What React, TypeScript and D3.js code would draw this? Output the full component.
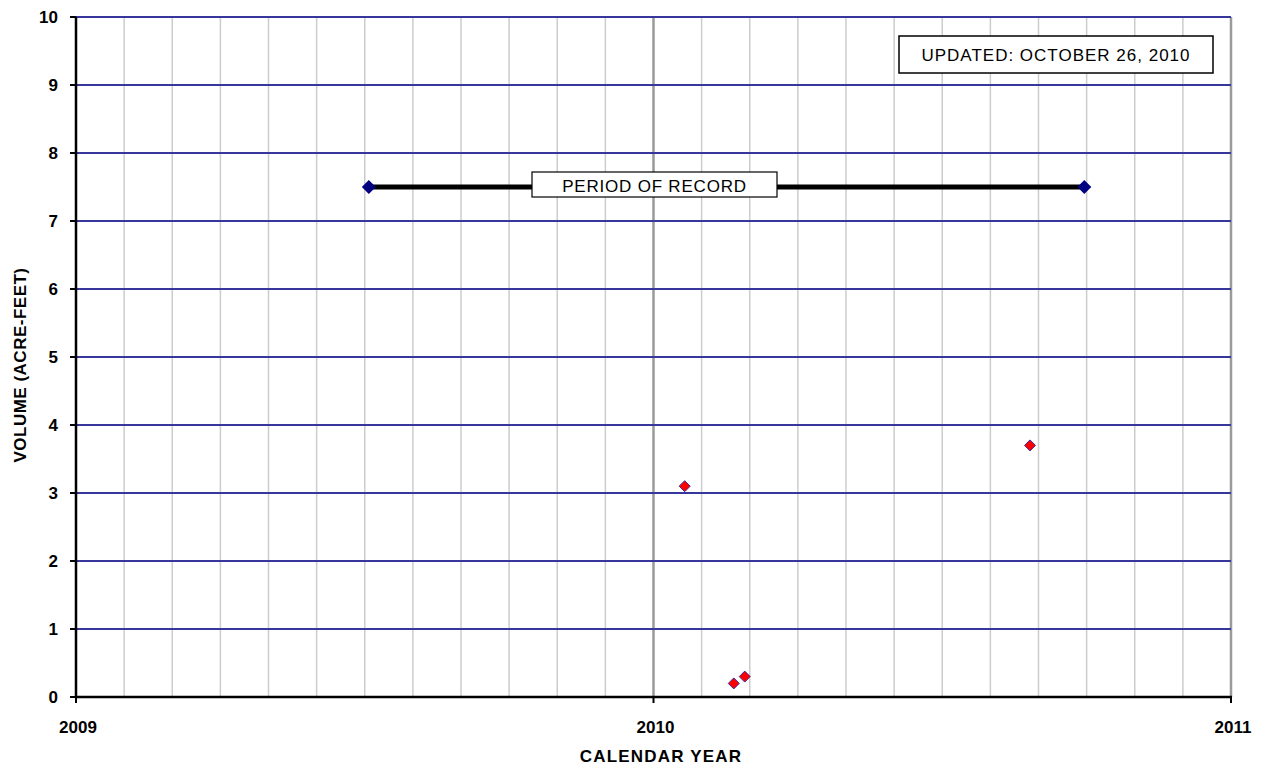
import React from "react";
import * as d3 from "d3";

// decimal years
const recordStart = 2009.507;
const recordEnd = 2010.746;
const recordLevel = 7.5;
const sampleYears = [2010.054, 2010.139, 2010.158, 2010.652];
const sampleVolumes = [3.1, 0.2, 0.3, 3.7];
const yTicks = [0, 1, 2, 3, 4, 5, 6, 7, 8, 9, 10];
const xTickYears = [2009, 2010, 2011];
const monthGrid = d3.range(1, 24).map((i) => 2009 + i / 12);

const W = 1263, H = 771;
const L = 76, R = 1231, T = 17, B = 697;

export default function App() {
  const x = d3.scaleLinear().domain([2009, 2011]).range([L, R]);
  const y = d3.scaleLinear().domain([0, 10]).range([B, T]);
  const font = "'Liberation Sans', Arial, sans-serif";
  const diamond = (cx: number, cy: number, r: number) =>
    `M${cx},${cy - r}L${cx + r},${cy}L${cx},${cy + r}L${cx - r},${cy}Z`;
  return (
    <svg width={W} height={H} style={{ position: "absolute", left: 0, top: 0, background: "#fff" }} fontFamily={font}>
      <rect x={0} y={0} width={W} height={H} fill="#fff" />
      {monthGrid.map((m, i) => (
        <line key={"v" + i} x1={x(m)} x2={x(m)} y1={T} y2={B}
          stroke={i === 11 ? "#9a9a9a" : "#cccccc"} strokeWidth={i === 11 ? 2.5 : 1.5} />
      ))}
      <line x1={R} x2={R} y1={T} y2={B} stroke="#9a9a9a" strokeWidth={2.5} />
      {yTicks.filter((t) => t > 0).map((t) => (
        <line key={"h" + t} x1={L} x2={R} y1={y(t)} y2={y(t)} stroke="#36369c" strokeWidth={2.2} />
      ))}
      {/* axes */}
      <line x1={L} x2={L} y1={T} y2={B + 1} stroke="#000" strokeWidth={2.5} />
      <line x1={L - 1} x2={R + 1} y1={B} y2={B} stroke="#000" strokeWidth={2.5} />
      {yTicks.map((t) => (
        <g key={"yt" + t}>
          <line x1={L - 6} x2={L} y1={y(t)} y2={y(t)} stroke="#000" strokeWidth={2} />
          <text x={58} y={y(t) + 6} textAnchor="end" fontSize={17} fontWeight="bold" fill="#000">{t}</text>
        </g>
      ))}
      {xTickYears.map((t) => (
        <g key={"xt" + t}>
          <line x1={x(t)} x2={x(t)} y1={B} y2={B + 6} stroke="#000" strokeWidth={2} />
          <text x={x(t) + 2} y={733} textAnchor="middle" fontSize={17} fontWeight="bold" fill="#000">{t}</text>
        </g>
      ))}
      <text x={661} y={762} textAnchor="middle" fontSize={17} fontWeight="bold" fill="#000" letterSpacing={1.2}>CALENDAR YEAR</text>
      <text transform={`translate(26,${(T + B) / 2 + 8}) rotate(-90)`} textAnchor="middle" fontSize={17} fontWeight="bold" fill="#000" letterSpacing={0.5}>VOLUME (ACRE-FEET)</text>
      {/* period of record */}
      <line x1={x(recordStart)} x2={x(recordEnd)} y1={y(recordLevel)} y2={y(recordLevel)} stroke="#000" strokeWidth={5} />
      <path d={diamond(x(recordStart), y(recordLevel), 7)} fill="#000080" />
      <path d={diamond(x(recordEnd), y(recordLevel), 7)} fill="#000080" />
      <rect x={532} y={172} width={245} height={25} fill="#fff" stroke="#000" strokeWidth={1.2} />
      <text x={654.5} y={191.5} textAnchor="middle" fontSize={17} fill="#000" letterSpacing={0.8}>PERIOD OF RECORD</text>
      {/* samples */}
      {sampleYears.map((sy, i) => (
        <path key={"p" + i} d={diamond(x(sy), y(sampleVolumes[i]), 5.5)} fill="#ff0000" stroke="#3a2a9a" strokeWidth={1} />
      ))}
      {/* updated box */}
      <rect x={899} y={36} width={314} height={37} fill="#fff" stroke="#000" strokeWidth={1.5} />
      <text x={1056} y={61} textAnchor="middle" fontSize={17} fill="#000" letterSpacing={1}>UPDATED: OCTOBER 26, 2010</text>
    </svg>
  );
}
